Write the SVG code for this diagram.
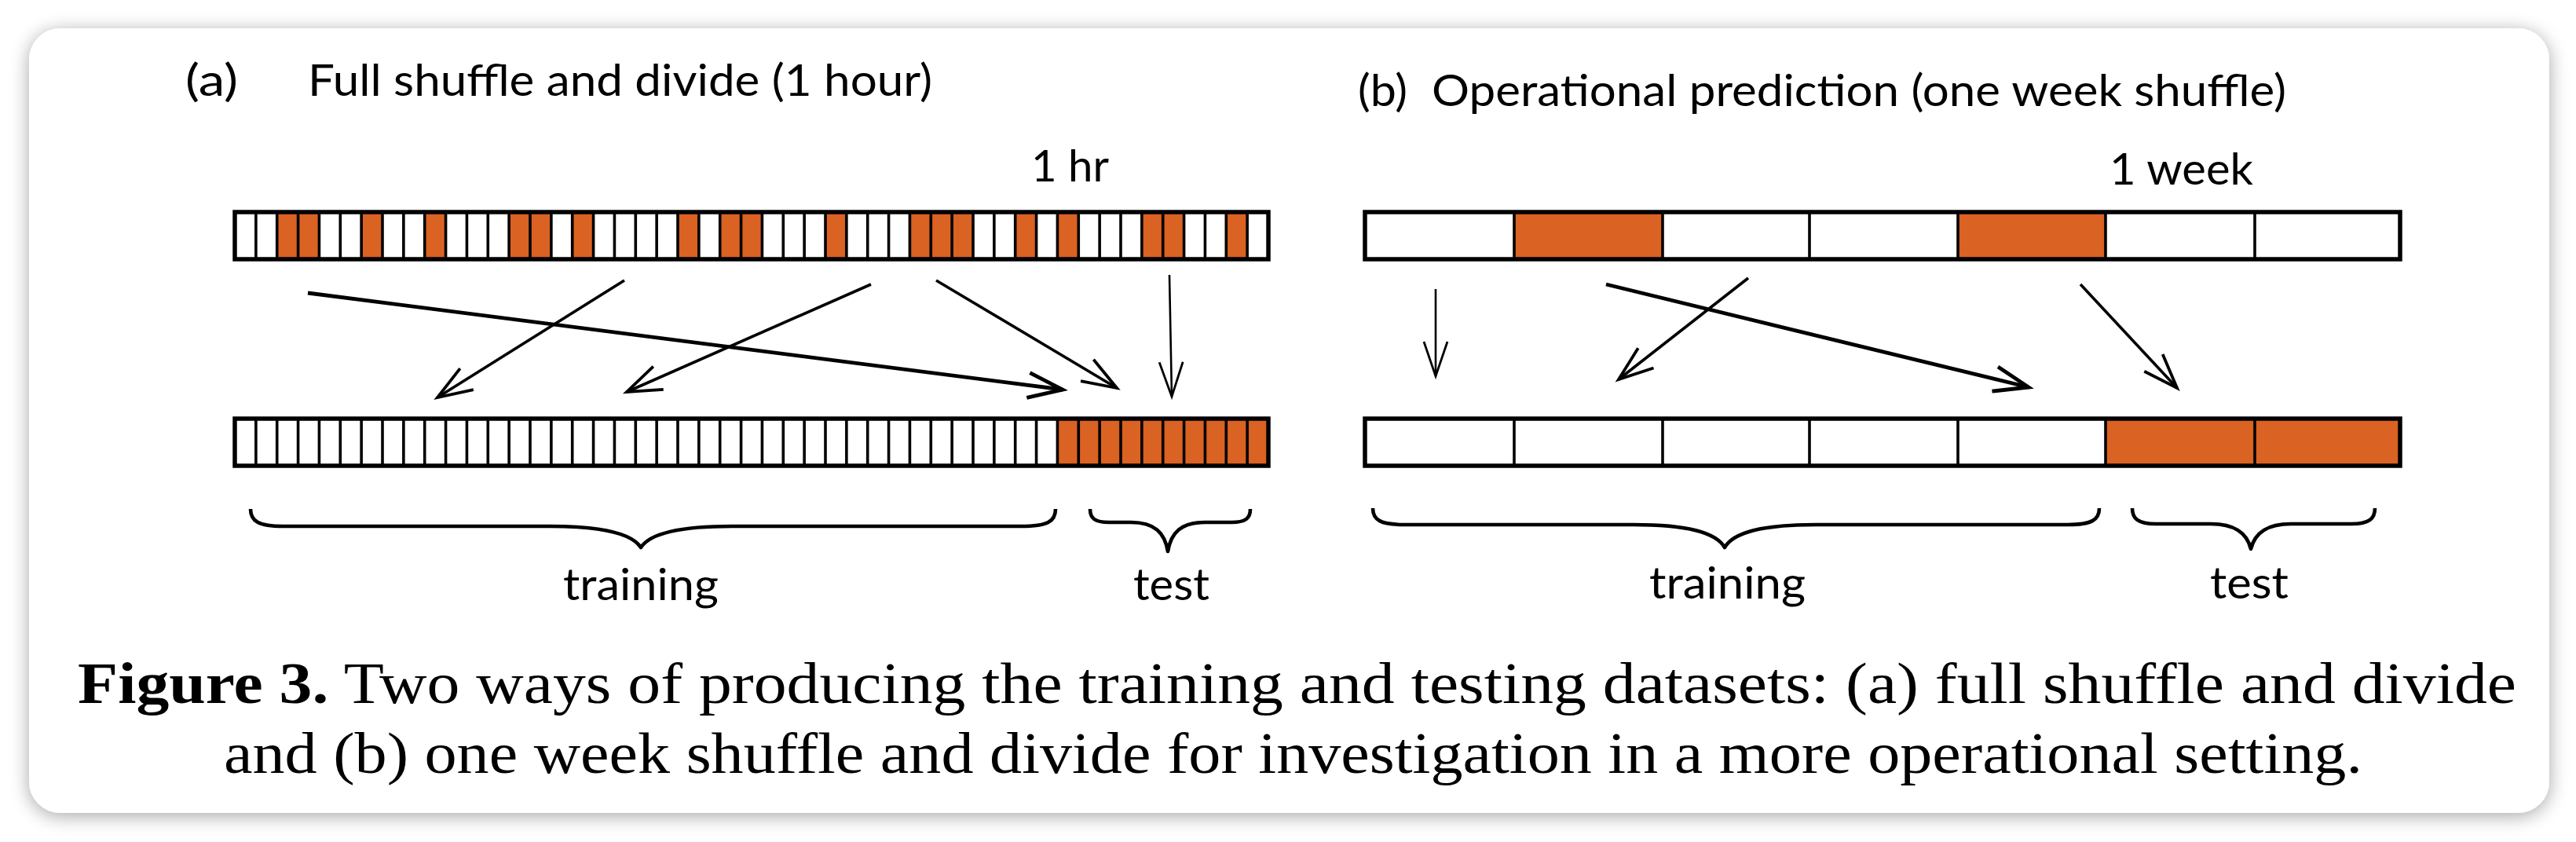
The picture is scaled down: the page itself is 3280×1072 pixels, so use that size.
<svg xmlns="http://www.w3.org/2000/svg" xmlns:xlink="http://www.w3.org/1999/xlink" width="3280" height="1072" viewBox="0 0 3280 1072">
<style>
.org{fill:#DA6222}
.wht{fill:#FFFFFF}
.box{fill:none;stroke:#000;stroke-width:5.5}
.dv{fill:none;stroke:#000;stroke-width:3.6}
.lbl{font-family:Lato,'Open Sans',sans-serif;font-size:57px;fill:#000}
.cap{font-family:'Liberation Serif','Times New Roman',serif;font-size:74px;fill:#000}
.capb{font-weight:bold}
.brace{fill:none;stroke:#000;stroke-width:4.6;stroke-linejoin:round}
.thick{fill:none;stroke:#000;stroke-width:4.8;marker-end:url(#ahThick)}
.med{fill:none;stroke:#000;stroke-width:3.6;marker-end:url(#ahMed)}
.thin{fill:none;stroke:#000;stroke-width:2.6;marker-end:url(#ahThin)}
</style>
<defs>
<filter id="sh" x="-5%" y="-10%" width="110%" height="120%">
<feGaussianBlur in="SourceAlpha" stdDeviation="12"/>
<feOffset dy="4" result="b"/>
<feComponentTransfer><feFuncA type="linear" slope="0.35"/></feComponentTransfer>
<feMerge><feMergeNode/><feMergeNode in="SourceGraphic"/></feMerge>
</filter>
<marker id="ahThick" markerUnits="userSpaceOnUse" viewBox="-60 -30 70 60" markerWidth="70" markerHeight="60" refX="0" refY="0" orient="auto" overflow="visible">
<path d="M-44,-16 L0,0 L-44,16" fill="none" stroke="#000" stroke-width="4.8"/>
</marker>
<marker id="ahMed" markerUnits="userSpaceOnUse" viewBox="-60 -30 70 60" markerWidth="70" markerHeight="60" refX="0" refY="0" orient="auto" overflow="visible">
<path d="M-44,-16 L0,0 L-44,16" fill="none" stroke="#000" stroke-width="3.8"/>
</marker>
<marker id="ahThin" markerUnits="userSpaceOnUse" viewBox="-60 -30 70 60" markerWidth="70" markerHeight="60" refX="0" refY="0" orient="auto" overflow="visible">
<path d="M-44,-15 L0,0 L-44,15" fill="none" stroke="#000" stroke-width="2.8"/>
</marker>
<path id="divA" class="dv" d="M325.86 0v60M352.71 0v60M379.57 0v60M406.43 0v60M433.29 0v60M460.14 0v60M487 0v60M513.86 0v60M540.71 0v60M567.57 0v60M594.43 0v60M621.29 0v60M648.14 0v60M675 0v60M701.86 0v60M728.71 0v60M755.57 0v60M782.43 0v60M809.29 0v60M836.14 0v60M863 0v60M889.86 0v60M916.71 0v60M943.57 0v60M970.43 0v60M997.29 0v60M1024.14 0v60M1051 0v60M1077.86 0v60M1104.71 0v60M1131.57 0v60M1158.43 0v60M1185.29 0v60M1212.14 0v60M1239 0v60M1265.86 0v60M1292.71 0v60M1319.57 0v60M1346.43 0v60M1373.29 0v60M1400.14 0v60M1427 0v60M1453.86 0v60M1480.71 0v60M1507.57 0v60M1534.43 0v60M1561.29 0v60M1588.14 0v60"/>
<path id="divB" class="dv" d="M1928 0v60M2117 0v60M2304 0v60M2493 0v60M2681 0v60M2871 0v60"/>
</defs>
<rect width="3280" height="1072" fill="#FFFFFF"/>
<rect id="card" x="37" y="36" width="3209" height="999" rx="40" ry="40" fill="#FFFFFF" filter="url(#sh)"/>

<g id="panel-a-title">
<text class="lbl" x="236" y="122" textLength="67" lengthAdjust="spacingAndGlyphs">(a)</text>
<text class="lbl" x="392" y="122" textLength="795" lengthAdjust="spacingAndGlyphs">Full shuffle and divide (1 hour)</text>
</g>
<g id="label-1hr"><text class="lbl" x="1313" y="231" textLength="99" lengthAdjust="spacingAndGlyphs">1 hr</text></g>

<g id="bar-a-top">
<rect class="wht" x="299" y="270" width="1316" height="60"/>
<rect class="org" x="352.71" y="270" width="53.71" height="60"/>
<rect class="org" x="460.14" y="270" width="26.86" height="60"/>
<rect class="org" x="540.71" y="270" width="26.86" height="60"/>
<rect class="org" x="648.14" y="270" width="53.71" height="60"/>
<rect class="org" x="728.71" y="270" width="26.86" height="60"/>
<rect class="org" x="863" y="270" width="26.86" height="60"/>
<rect class="org" x="916.71" y="270" width="53.71" height="60"/>
<rect class="org" x="1051" y="270" width="26.86" height="60"/>
<rect class="org" x="1158.43" y="270" width="80.57" height="60"/>
<rect class="org" x="1292.71" y="270" width="26.86" height="60"/>
<rect class="org" x="1346.43" y="270" width="26.86" height="60"/>
<rect class="org" x="1453.86" y="270" width="53.71" height="60"/>
<rect class="org" x="1561.29" y="270" width="26.86" height="60"/>
<use xlink:href="#divA" href="#divA" y="270"/>
<rect class="box" x="299" y="270" width="1316" height="60"/>
</g>

<g id="bar-a-bottom">
<rect class="wht" x="299" y="533" width="1316" height="60"/>
<rect class="org" x="1346.43" y="533" width="268.57" height="60"/>
<use xlink:href="#divA" href="#divA" y="533"/>
<rect class="box" x="299" y="533" width="1316" height="60"/>
</g>

<g id="brace-a-training"><path class="brace" d="M319,648 C319,664 330,670 360,670 L700,670 C770,670 805,680 816,697 C827,680 862,670 932,670 L1300,670 C1334,670 1344,664 1344,648"/>
<text class="lbl" x="717" y="764" textLength="198" lengthAdjust="spacingAndGlyphs">training</text></g>
<g id="brace-a-test"><path class="brace" d="M1388,648 C1388,660 1394,665 1412,665 L1440,665 C1470,665 1483,678 1487,702 C1491,678 1504,665 1534,665 L1568,665 C1586,665 1592,660 1592,648"/>
<text class="lbl" x="1443" y="764" textLength="97" lengthAdjust="spacingAndGlyphs">test</text></g>

<g id="panel-b-title">
<text class="lbl" x="1729" y="135" textLength="63" lengthAdjust="spacingAndGlyphs">(b)</text>
<text class="lbl" x="1823" y="135" textLength="1088" lengthAdjust="spacingAndGlyphs">Operational prediction (one week shuffle)</text>
</g>
<g id="label-1week"><text class="lbl" x="2686" y="235" textLength="183" lengthAdjust="spacingAndGlyphs">1 week</text></g>

<g id="bar-b-top">
<rect class="wht" x="1738" y="270" width="1318" height="60"/>
<rect class="org" x="1928" y="270" width="189" height="60"/>
<rect class="org" x="2493" y="270" width="188" height="60"/>
<use xlink:href="#divB" href="#divB" y="270"/>
<rect class="box" x="1738" y="270" width="1318" height="60"/>
</g>

<g id="bar-b-bottom">
<rect class="wht" x="1738" y="533" width="1318" height="60"/>
<rect class="org" x="2681" y="533" width="375" height="60"/>
<use xlink:href="#divB" href="#divB" y="533"/>
<rect class="box" x="1738" y="533" width="1318" height="60"/>
</g>

<g id="brace-b-training"><path class="brace" d="M1748,647 C1748,662 1758,668 1788,668 L2080,668 C2150,668 2185,678 2196,697 C2207,678 2242,668 2312,668 L2633,668 C2663,668 2673,662 2673,647"/>
<text class="lbl" x="2100" y="762" textLength="199" lengthAdjust="spacingAndGlyphs">training</text></g>
<g id="brace-b-test"><path class="brace" d="M2715,647 C2715,660 2722,667 2745,667 L2815,667 C2845,667 2861,678 2866,699 C2871,678 2887,667 2917,667 L2994,667 C3017,667 3024,660 3024,647"/>
<text class="lbl" x="2814" y="762" textLength="100" lengthAdjust="spacingAndGlyphs">test</text></g>

<g id="connectors">
<path class="thick" d="M392,373 L1353,496"/>
<path class="med" d="M795,357 L557,506"/>
<path class="med" d="M1109,362 L798,499"/>
<path class="med" d="M1192,357 L1422,494"/>
<path class="thin" d="M1489,350 L1492,505"/>
<path class="thin" d="M1828,368 L1828,479"/>
<path class="med" d="M2226,354 L2061,483"/>
<path class="thick" d="M2045,362 L2583,493"/>
<path class="med" d="M2649,362 L2772,494"/>
</g>

<g id="caption">
<text class="cap" x="99" y="895" textLength="3105" lengthAdjust="spacingAndGlyphs"><tspan class="capb">Figure 3.</tspan> Two ways of producing the training and testing datasets: (a) full shuffle and divide</text>
<text class="cap" x="285" y="984" textLength="2723" lengthAdjust="spacingAndGlyphs">and (b) one week shuffle and divide for investigation in a more operational setting.</text>
</g>
</svg>
